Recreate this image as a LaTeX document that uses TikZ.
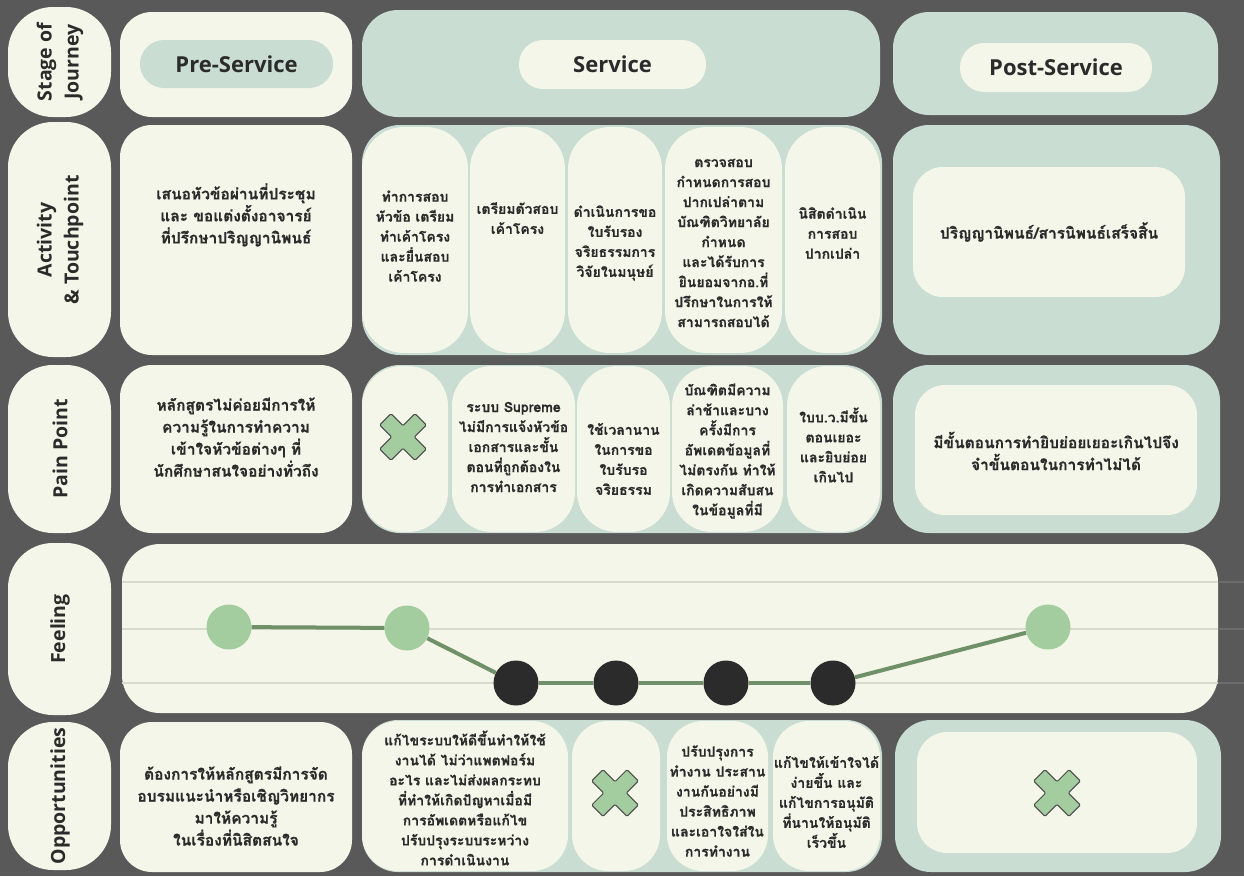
\documentclass[tikz,border=0pt]{standalone}
\usepackage{fontspec}
\setmainfont{Open Sans}
\newfontfamily\thaifont[Script=Thai, BoldFeatures={FakeBold=0.6}]{Loma}
\definecolor{bg}{HTML}{595959}
\definecolor{cream}{HTML}{F5F6EA}
\definecolor{sage}{HTML}{C9DDD3}
\definecolor{ink}{HTML}{2B2B2B}
\definecolor{leaf}{HTML}{A3CD9F}
\definecolor{linegreen}{HTML}{6F9068}
\definecolor{gridc}{HTML}{D9DCCD}
\definecolor{gridd}{HTML}{6B6B6B}
\begin{document}
\begin{tikzpicture}[x=1pt,y=-1pt,
  lbl/.style={font=\bfseries\fontsize{19.5}{27}\selectfont, text=ink, align=center, rotate=90, inner sep=0},
  head/.style={font=\bfseries\fontsize{22}{26}\selectfont, text=ink, inner sep=0},
  thb/.style={font=\thaifont\bfseries\fontsize{15.5}{22}\selectfont, text=ink, align=center, inner sep=0},
  ths/.style={font=\thaifont\bfseries\fontsize{14}{20}\selectfont, text=ink, align=center, inner sep=0},
  creambox/.style={fill=cream},
  sagebox/.style={fill=sage},
  mood/.style={circle, minimum size=45, inner sep=0},
  good/.style={mood, fill=leaf},
  bad/.style={mood, fill=ink},
  moodline/.style={draw=linegreen, line width=4},
  xmk/.pic={\draw[rotate=45, fill=leaf, draw=ink!85, line width=1, rounded corners=1.2]
     (25,8) -- (25,-8) -- (8,-8) -- (8,-25) -- (-8,-25) -- (-8,-8) -- (-25,-8) -- (-25,8)
     -- (-8,8) -- (-8,25) -- (8,25) -- (8,8) -- cycle;}
]
\fill[bg] (0,0) rectangle (1244,876);
\useasboundingbox (0,0) rectangle (1244,876);

% ---------- label column ----------
\fill[creambox, rounded corners=45] (8,7) rectangle (111,117);
\fill[creambox, rounded corners=45] (8,122) rectangle (111,357);
\fill[creambox, rounded corners=45] (8,365) rectangle (111,533);
\fill[creambox, rounded corners=45] (8,543) rectangle (111,715);
\fill[creambox, rounded corners=45] (8,722) rectangle (111,870);
\node[lbl] (lstage) at (60,62) {Stage of\\Journey};
\node[lbl] (lact) at (60,240) {Activity\\\& Touchpoint};
\node[lbl] (lpain) at (60,449) {Pain Point};
\node[lbl] (lfeel) at (60,629) {Feeling};
\node[lbl] (lopp) at (60,796) {Opportunities};

% ---------- row 1: stage ----------
\fill[creambox, rounded corners=32] (120,12) rectangle (352,117);
\fill[sagebox, rounded corners=24] (140,40) rectangle (333,88);
\node[head] (pre) at (236.5,64) {Pre-Service};
\fill[sagebox, rounded corners=36] (362,10) rectangle (880,117);
\fill[creambox, rounded corners=24] (519,40) rectangle (706,89);
\node[head] (srv) at (612.5,64.5) {Service};
\fill[sagebox, rounded corners=36] (893,12) rectangle (1218,115);
\fill[creambox, rounded corners=24] (960,43) rectangle (1152,92);
\node[head] (post) at (1056,67.5) {Post-Service};

% ---------- row 2: activity ----------
\fill[creambox, rounded corners=32] (120,125) rectangle (352,355);
\node[thb] (a0) at (236,215) {เสนอหัวข้อผ่านที่ประชุม\\และ ขอแต่งตั้งอาจารย์\\ที่ปรึกษาปริญญานิพนธ์};
\fill[sagebox, rounded corners=38] (362,125) rectangle (882,355);
\fill[creambox, rounded corners=42] (362,127) rectangle (468,353);
\fill[creambox, rounded corners=42] (470,127) rectangle (565,353);
\fill[creambox, rounded corners=42] (568,127) rectangle (662,353);
\fill[creambox, rounded corners=42] (665,127) rectangle (782,353);
\fill[creambox, rounded corners=42] (785,127) rectangle (880,353);
\node[ths] (a1) at (415,236) {ทำการสอบ\\หัวข้อ เตรียม\\ทำเค้าโครง\\และยื่นสอบ\\เค้าโครง};
\node[ths] (a2) at (517.5,218) {เตรียมตัวสอบ\\เค้าโครง};
\node[ths] (a3) at (615,243) {ดำเนินการขอ\\ใบรับรอง\\จริยธรรมการ\\วิจัยในมนุษย์};
\node[ths] (a4) at (723.5,243) {ตรวจสอบ\\กำหนดการสอบ\\ปากเปล่าตาม\\บัณฑิตวิทยาลัย\\กำหนด\\และได้รับการ\\ยินยอมจากอ.ที่\\ปรึกษาในการให้\\สามารถสอบได้};
\node[ths] (a5) at (832.5,233) {นิสิตดำเนิน\\การสอบ\\ปากเปล่า};
\fill[sagebox, rounded corners=36] (893,125) rectangle (1220,355);
\fill[creambox, rounded corners=30] (913,167) rectangle (1185,297);
\node[thb] (a6) at (1049,232) {ปริญญานิพนธ์/สารนิพนธ์เสร็จสิ้น};

% ---------- row 3: pain point ----------
\fill[creambox, rounded corners=32] (120,365) rectangle (352,533);
\node[thb] (p0) at (236,437) {หลักสูตรไม่ค่อยมีการให้\\ความรู้ในการทำความ\\เข้าใจหัวข้อต่างๆ ที่\\นักศึกษาสนใจอย่างทั่วถึง};
\fill[sagebox, rounded corners=38] (362,365) rectangle (882,533);
\fill[creambox, rounded corners=40] (362,366) rectangle (448,532);
\fill[creambox, rounded corners=40] (452,366) rectangle (575,532);
\fill[creambox, rounded corners=40] (577,366) rectangle (670,532);
\fill[creambox, rounded corners=40] (672,366) rectangle (783,532);
\fill[creambox, rounded corners=40] (787,366) rectangle (880,532);
\pic (x1) at (403,437) {xmk};
\node[ths] (p2) at (513.5,447) {ระบบ Supreme\\ไม่มีการแจ้งหัวข้อ\\เอกสารและขั้น\\ตอนที่ถูกต้องใน\\การทำเอกสาร};
\node[ths] (p3) at (623.5,459) {ใช้เวลานาน\\ในการขอ\\ใบรับรอ\\จริยธรรม};
\node[ths] (p4) at (727.5,451) {บัณฑิตมีความ\\ล่าช้าและบาง\\ครั้งมีการ\\อัพเดตข้อมูลที่\\ไม่ตรงกัน ทำให้\\เกิดความสับสน\\ในข้อมูลที่มี};
\node[ths] (p5) at (833.5,445) {ใบบ.ว.มีขั้น\\ตอนเยอะ\\และยิบย่อย\\เกินไป};
\fill[sagebox, rounded corners=36] (893,365) rectangle (1220,533);
\fill[creambox, rounded corners=30] (915,385) rectangle (1197,515);
\node[thb] (p6) at (1056,451) {มีขั้นตอนการทำยิบย่อยเยอะเกินไปจึง\\จำขั้นตอนในการทำไม่ได้};

% ---------- row 4: feeling ----------
\fill[creambox, rounded corners=38] (122,544) rectangle (1218,713);
\foreach \yy in {582,629,683} {
  \draw[gridc, line width=2] (122,\yy) -- (1218,\yy);
  \draw[gridd, line width=2] (1218,\yy) -- (1244,\yy);
}
\node[good] (f1) at (229,627) {};
\node[good] (f2) at (407,628) {};
\node[bad] (f3) at (516,683) {};
\node[bad] (f4) at (616,683) {};
\node[bad] (f5) at (726,683) {};
\node[bad] (f6) at (833,683) {};
\node[good] (f7) at (1048,627) {};
\draw[moodline] (f1) -- (f2);
\draw[moodline] (f2) -- (f3);
\draw[moodline] (f3) -- (f4);
\draw[moodline] (f4) -- (f5);
\draw[moodline] (f5) -- (f6);
\draw[moodline] (f6) -- (f7);

% ---------- row 5: opportunities ----------
\fill[creambox, rounded corners=32] (120,722) rectangle (352,872);
\node[thb] (o0) at (236,806) {ต้องการให้หลักสูตรมีการจัด\\อบรมแนะนำหรือเชิญวิทยากร\\มาให้ความรู้\\ในเรื่องที่นิสิตสนใจ};
\fill[sagebox, rounded corners=36] (362,720) rectangle (882,872);
\fill[creambox, rounded corners=36] (362,721) rectangle (568,871);
\fill[creambox, rounded corners=36] (572,721) rectangle (660,871);
\fill[creambox, rounded corners=36] (667,721) rectangle (768,871);
\fill[creambox, rounded corners=36] (773,721) rectangle (880,871);
\node[ths] (o1) at (465,798) {แก้ไขระบบให้ดีขึ้นทำให้ใช้\\งานได้ ไม่ว่าแพตฟอร์ม\\อะไร และไม่ส่งผลกระทบ\\ที่ทำให้เกิดปัญหาเมื่อมี\\การอัพเดตหรือแก้ไข\\ปรับปรุงระบบระหว่าง\\การดำเนินงาน};
\pic (x2) at (615,793) {xmk};
\node[ths] (o3) at (717.5,801) {ปรับปรุงการ\\ทำงาน ประสาน\\งานกันอย่างมี\\ประสิทธิภาพ\\และเอาใจใส่ใน\\การทำงาน};
\node[ths] (o4) at (826.5,802) {แก้ไขให้เข้าใจได้\\ง่ายขึ้น และ\\แก้ไขการอนุมัติ\\ที่นานให้อนุมัติ\\เร็วขึ้น};
\fill[sagebox, rounded corners=36] (895,720) rectangle (1221,872);
\fill[creambox, rounded corners=30] (917,732) rectangle (1197,853);
\pic (x3) at (1057,793) {xmk};
\end{tikzpicture}
\end{document}
